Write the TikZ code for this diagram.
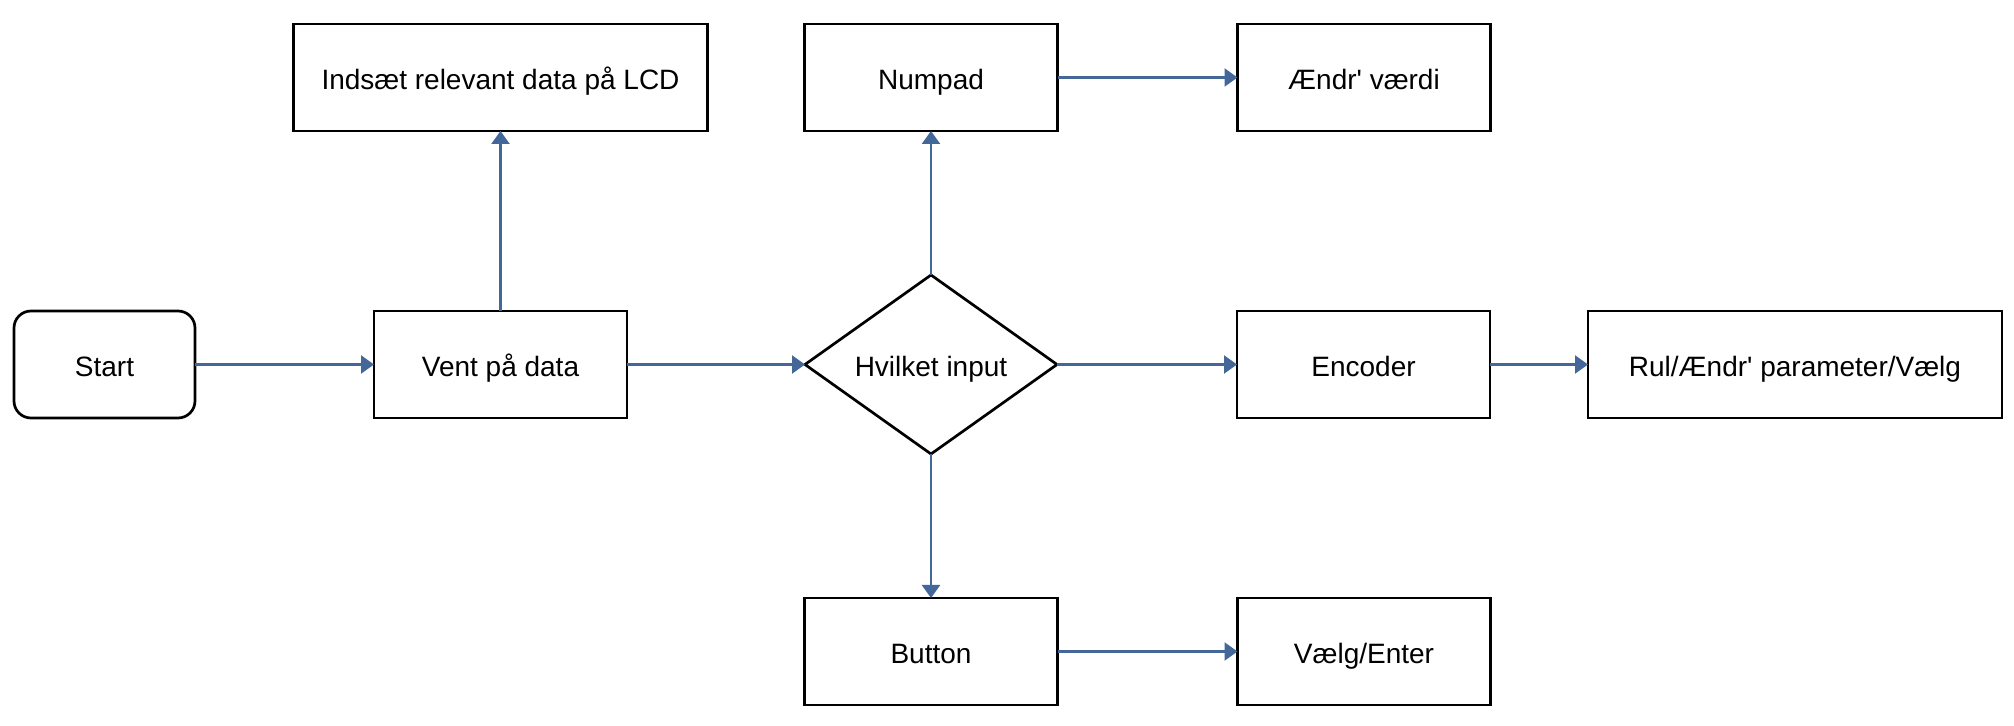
\documentclass[tikz,border=0pt]{standalone}
\usepackage{fontspec}
\setmainfont{Liberation Sans}
\usepackage{xcolor}
\usepackage{tikz}
\usetikzlibrary{positioning, arrows.meta, shapes.geometric}

\definecolor{flowblue}{HTML}{44679A}

\begin{document}
\begin{tikzpicture}[
    x=0.5pt, y=-0.5pt,
    every node/.style={font=\fontsize{14pt}{17pt}\selectfont, outer sep=0pt, text height=12.5pt, text depth=0pt},
    box/.style={rectangle, draw=black, fill=white, line width=1.35pt, minimum width=126.5pt, minimum height=53.5pt, align=center},
    widebox/.style={box, minimum width=207pt},
    startbox/.style={rectangle, rounded corners=8.5pt, draw=black, fill=white, line width=1.35pt, minimum width=90.5pt, minimum height=53.5pt},
    decision/.style={diamond, draw=black, fill=white, line width=1.35pt, aspect=1.41, inner sep=0pt, minimum width=126pt, minimum height=89.5pt},
    flow/.style={draw=flowblue, line width=1.2pt, -{Triangle[length=6.5pt, width=9pt]}}
]
\useasboundingbox (0,0) rectangle (2014,726);

% Flow
\node[startbox] (start) at (104.5,364.5) {Start};
\node[box, right=89.5pt of start] (vent) {Vent på data};
\node[widebox, above=90pt of vent] (lcd) {Indsæt relevant data på LCD};
\node[decision, right=89pt of vent] (input) {Hvilket input};
\node[box, above=72pt of input] (numpad) {Numpad};
\node[box, right=90pt of numpad] (vaerdi) {Ændr\textquotesingle{} værdi};
\node[box, right=90pt of input] (encoder) {Encoder};
\node[widebox, right=49pt of encoder] (rul) {Rul/Ændr\textquotesingle{} parameter/Vælg};
\node[box, below=72pt of input] (button) {Button};
\node[box, right=90pt of button] (enter) {Vælg/Enter};

% Arrows
\draw[flow] (start) -- (vent);
\draw[flow] (vent) -- (lcd);
\draw[flow] (vent) -- (input);
\draw[flow] (input) -- (numpad);
\draw[flow] (numpad) -- (vaerdi);
\draw[flow] (input) -- (encoder);
\draw[flow] (encoder) -- (rul);
\draw[flow] (input) -- (button);
\draw[flow] (button) -- (enter);

\end{tikzpicture}
\end{document}
